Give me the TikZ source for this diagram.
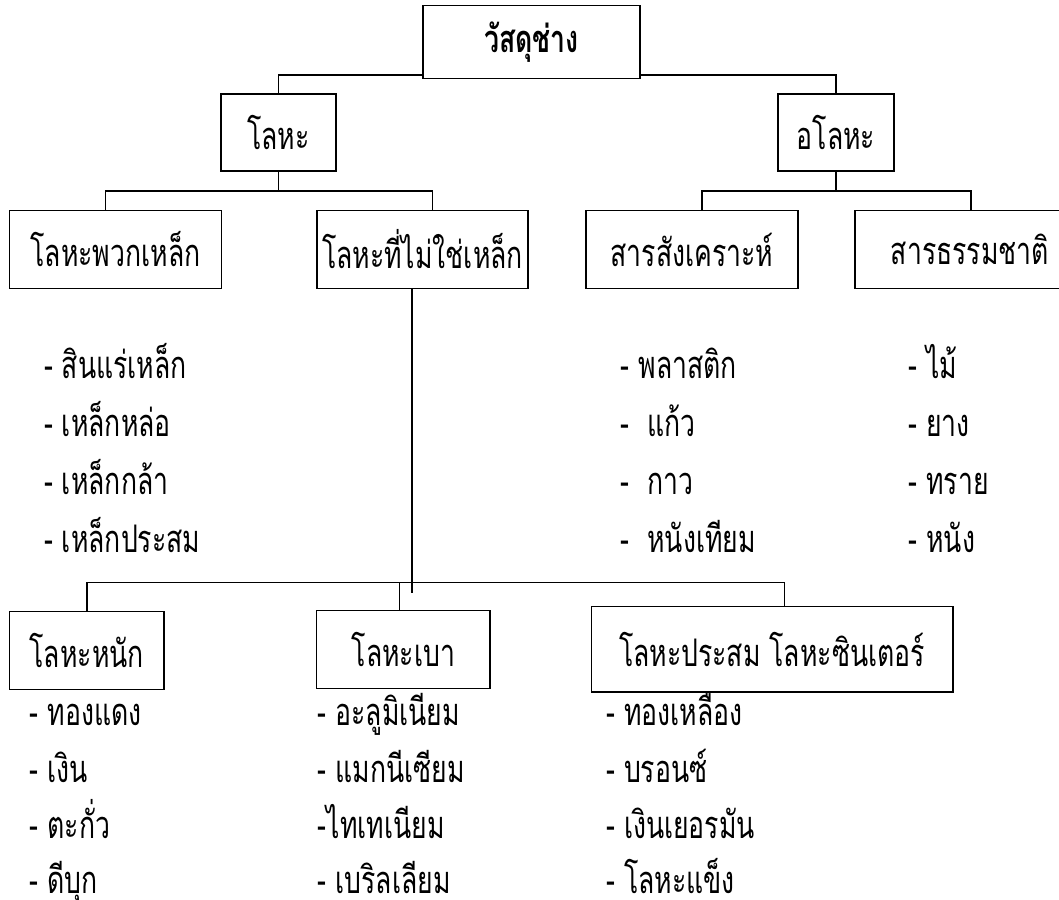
\documentclass[tikz,border=0pt]{standalone}
\usepackage{fontspec}
\newfontfamily\thai[Script=Thai,FakeStretch=0.7]{Loma}
\newcommand{\tf}{\thai\fontsize{38}{44}\selectfont}
\begin{document}
\begin{tikzpicture}[x=1pt,y=-1pt,
  box/.style={draw, line width=1.5pt, inner sep=0pt, anchor=center, font=\tf},
  item/.style={anchor=base west, inner sep=0pt, font=\tf},
  conn/.style={line width=1.5pt}]
\useasboundingbox (0,0) rectangle (1059,899);
% boxes
\node[box, minimum width=217pt, minimum height=73pt, font=\tf\bfseries] (root) at (531.5,42) {วัสดุช่าง};
\node[box, minimum width=115pt, minimum height=77pt] (metal) at (278.5,132.5) {โลหะ};
\node[box, minimum width=116pt, minimum height=77pt] (nonmetal) at (836,132.5) {อโลหะ};
\node[box, minimum width=212pt, minimum height=78pt] (ferrous) at (115.5,249.5) {โลหะพวกเหล็ก};
\node[box, minimum width=211pt, minimum height=78pt] (nonferrous) at (422.5,249.5) {โลหะที่ไม่ใช่เหล็ก};
\node[box, minimum width=212pt, minimum height=78pt] (synth) at (692,249.5) {สารสังเคราะห์};
\node[box, minimum width=230pt, minimum height=78pt] (natural) at (970,249.5) {สารธรรมชาติ};
\node[box, minimum width=154.5pt, minimum height=78pt] (heavy) at (86.8,650.5) {โลหะหนัก};
\node[box, minimum width=173.6pt, minimum height=78pt] (light) at (403.4,649.7) {โลหะเบา\hspace{28pt}};
\node[box, minimum width=361.5pt, minimum height=85.5pt] (alloy) at (772,649) {โลหะประสม โลหะซินเตอร์};
% connectors
\draw[conn] ([yshift=4.3pt]root.south west) -| (metal.north);
\draw[conn] ([yshift=4.3pt]root.south east) -| (nonmetal.north);
\path (metal.south) ++(0,19) coordinate (mb);
\path (nonmetal.south) ++(0,19) coordinate (nb);
\draw[conn] (metal.south) -- (mb);
\draw[conn] (nonmetal.south) -- (nb);
\draw[conn] ([xshift=-10pt]ferrous.north) |- (mb) -| ([xshift=10pt]nonferrous.north);
\draw[conn] ([xshift=10pt]synth.north) |- (nb) -| ([xshift=1pt]natural.north);
\coordinate (nfe) at (412,592.8);
\coordinate (bb) at (412,582.3);
\draw[conn] ([xshift=-10.5pt]nonferrous.south) -- (nfe);
\draw[conn] (heavy.north) |- (bb) -| ([xshift=12.4pt]alloy.north);
\draw[conn] ([xshift=-3.7pt]light.north) -- ([xshift=-3.7pt]light.north |- bb);
% lists
\node[item] (f1) at (44,378) {- สินแร่เหล็ก};
\node[item] (f2) at (44,436) {- เหล็กหล่อ};
\node[item] (f3) at (44,494.5) {- เหล็กกล้า};
\node[item] (f4) at (44,552) {- เหล็กประสม};
\node[item] (s1) at (620.5,378) {- พลาสติก};
\node[item] (s2) at (620.5,436) {-\ \ แก้ว};
\node[item] (s3) at (620.5,494.5) {-\ \ กาว};
\node[item] (s4) at (620.5,552) {-\ \ หนังเทียม};
\node[item] (n1) at (908.4,378) {- ไม้};
\node[item] (n2) at (908.4,436) {- ยาง};
\node[item] (n3) at (908.4,494.5) {- ทราย};
\node[item] (n4) at (908.4,552) {- หนัง};
\node[item] (h1) at (29.7,725.5) {- ทองแดง};
\node[item] (h2) at (29.7,782) {- เงิน};
\node[item] (h3) at (29.7,838.5) {- ตะกั่ว};
\node[item] (h4) at (29.7,893.5) {- ดีบุก};
\node[item] (l1) at (317.6,725.5) {- อะลูมิเนียม};
\node[item] (l2) at (317.6,782) {- แมกนีเซียม};
\node[item] (l3) at (317.6,838.5) {-ไทเทเนียม};
\node[item] (l4) at (317.6,893.5) {- เบริลเลียม};
\node[item] (a1) at (606,725.5) {- ทองเหลือง};
\node[item] (a2) at (606,782) {- บรอนซ์};
\node[item] (a3) at (606,838.5) {- เงินเยอรมัน};
\node[item] (a4) at (606,893.5) {- โลหะแข็ง};
\end{tikzpicture}
\end{document}
